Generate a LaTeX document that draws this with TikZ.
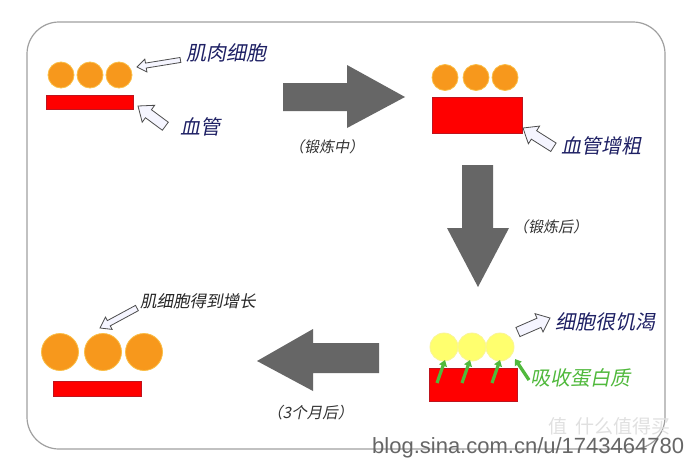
\documentclass[tikz,border=0pt]{standalone}
\usepackage{fontspec}
\setmainfont{Liberation Sans}
\newfontfamily\cjk[FakeSlant=0.2]{Noto Sans CJK SC}
\newfontfamily\cjkup{Noto Sans CJK SC}
\usetikzlibrary{arrows.meta}
\definecolor{cellorange}{RGB}{247,152,28}
\definecolor{cellrim}{RGB}{250,190,70}
\definecolor{vesselred}{RGB}{255,0,0}
\definecolor{vesselrim}{RGB}{190,20,30}
\definecolor{hungry}{RGB}{255,255,110}
\definecolor{hungryrim}{RGB}{250,245,150}
\definecolor{navy}{RGB}{30,32,100}
\definecolor{biggray}{RGB}{102,102,102}
\definecolor{protein}{RGB}{80,185,60}
\definecolor{framegray}{RGB}{160,160,160}
\tikzset{
  cell/.style={circle, inner sep=0pt, minimum size=#1, fill=cellorange, draw=cellrim, line width=0.8pt},
  ycell/.style={circle, inner sep=0pt, minimum size=#1, fill=hungry, draw=hungryrim, line width=0.8pt},
  vessel/.style={fill=vesselred, draw=vesselrim, line width=0.6pt},
  label/.style={anchor=west, inner sep=0pt, text=navy, font=\cjk\fontsize{20}{20}\selectfont},
  small/.style={anchor=west, inner sep=0pt, text=black!80, font=\cjk\fontsize{15}{15}\selectfont},
  bigarrow/.style={fill=biggray},
  hollow/.style={draw=black!70, fill=blue!4, line width=0.8pt, line join=miter},
  greenarrow/.style={draw=protein, line width=3.2pt, -{Triangle[width=8pt,length=6pt]}},
  pics/harrow/.style n args={4}{code={
    \draw[hollow] (0,0) -- (-#4,#3) -- (-#4,#2) -- (-#1,#2) -- (-#1,-#2) -- (-#4,-#2) -- (-#4,-#3) -- cycle;}}
}
\begin{document}
\begin{tikzpicture}[x=1pt,y=-1pt]
\useasboundingbox (0,0) rectangle (690,463);
\fill[white] (0,0) rectangle (690,463);
% frame
\draw[framegray, line width=1.2pt, rounded corners=32pt] (27,22) rectangle (665,449);

% panel 1
\node[cell=26pt] (c11) at (61,75) {};
\node[cell=26pt] (c12) at (90,75) {};
\node[cell=26pt] (c13) at (119,75) {};
\path[vessel] (46,95) rectangle (133,109);
\pic (a1) [rotate=189.2] at (137,67) {harrow={44}{2.5}{6.5}{9}};
\node[label] (t1) at (186,53) {肌肉细胞};
\pic (a2) [rotate=143.5] at (138,106) {harrow={34}{5}{10.5}{13}};
\node[label] (t2) at (180,127) {血管};

% arrow 1 -> 2
\fill[bigarrow] (283,83) -- (347,83) -- (347,65) -- (405,97) -- (347,128) -- (347,111) -- (283,111) -- cycle;
\node[small] (s1) at (289,147) {（锻炼中）};

% panel 2
\node[cell=26pt] (c21) at (445,77.5) {};
\node[cell=26pt] (c22) at (476,77.5) {};
\node[cell=26pt] (c23) at (505,77.5) {};
\path[vessel] (432,97) rectangle (522,133);
\pic (a3) [rotate=147.7] at (523,128) {harrow={36}{5}{10.5}{13}};
\node[label] (t3) at (561,146) {血管增粗};

% arrow 2 -> 3
\fill[bigarrow] (462,165) -- (493,165) -- (493,228) -- (509,228) -- (478,287) -- (447,228) -- (462,228) -- cycle;
\node[small] (s2) at (513,227) {（锻炼后）};

% panel 3
\path[vessel] (429,368) rectangle (517,401);
\node[ycell=28pt] (c31) at (444,347) {};
\node[ycell=28pt] (c32) at (472,347) {};
\node[ycell=28pt] (c33) at (500,347) {};
\coordinate (g1s) at (437,383); \coordinate (g1e) at (445,360);
\coordinate (g2s) at (462,383); \coordinate (g2e) at (470,360);
\coordinate (g3s) at (492,383); \coordinate (g3e) at (500,360);
\coordinate (g4s) at (529,380); \coordinate (g4e) at (515,359);
\draw[greenarrow] (g1s) -- (g1e);
\draw[greenarrow] (g2s) -- (g2e);
\draw[greenarrow] (g3s) -- (g3e);
\draw[greenarrow] (g4s) -- (g4e);
\pic (a4) [rotate=23.6] at (550,318) {harrow={35}{5}{10}{12}};
\node[label] (t4) at (555,322) {细胞很饥渴};
\node[label, text=protein] (t5) at (530,378) {吸收蛋白质};

% arrow 3 -> 4
\fill[bigarrow] (379,343) -- (313,343) -- (313,329) -- (257,361) -- (313,391) -- (313,373) -- (379,373) -- cycle;
\node[small, font=\cjk\fontsize{15.5}{15.5}\selectfont] (s3) at (267,413) {（3个月后）};

% panel 4
\node[cell=37pt] (c41) at (60,352) {};
\node[cell=37pt] (c42) at (103,352) {};
\node[cell=37pt] (c43) at (144,352) {};
\path[vessel] (53,381) rectangle (141,396);
\pic (a5) [rotate=208.4] at (100,328) {harrow={42}{3}{7}{10}};
\node[label, font=\cjk\fontsize{16.5}{16.5}\selectfont, text=black!85] (t6) at (140,301) {肌细胞得到增长};

% watermark
\node[anchor=west, inner sep=0pt, text=black!12, font=\cjkup\fontsize{19}{19}\selectfont] (w1) at (548,426) {值\hspace{8pt}什么值得买};
\node[anchor=west, inner sep=0pt, text=black!60, font=\fontsize{22}{22}\selectfont] (w2) at (372,448) {blog.sina.com.cn/u/1743464780};
\end{tikzpicture}
\end{document}
